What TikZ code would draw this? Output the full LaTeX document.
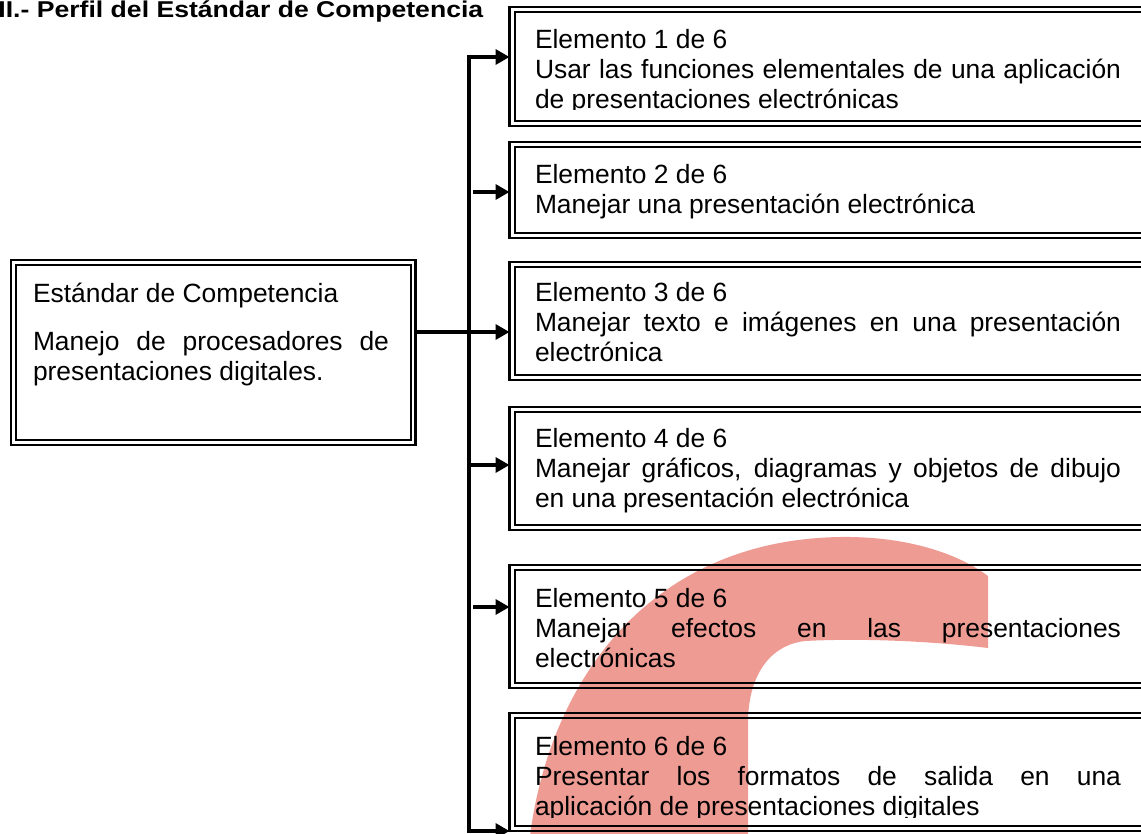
\documentclass[tikz,border=0pt]{standalone}
\usepackage{graphicx}
\usepackage{fontspec}
\setmainfont{Liberation Sans}
\usetikzlibrary{arrows.meta}
\definecolor{wmark}{RGB}{238,155,148}
\tikzset{
  boxo/.style={draw, rectangle, line width=2.5pt, inner sep=0pt, outer sep=0pt, anchor=north west},
  boxi/.style={draw, line width=2pt},
  eltext/.style={anchor=base west, inner sep=0pt, outer sep=0pt, font=\fontsize{26.4}{30}\selectfont},
  conn/.style={line width=3.3pt, line join=miter},
  >={Triangle[length=14pt,width=15pt]}
}
\begin{document}
\begin{tikzpicture}[x=1pt,y=-1pt]
\useasboundingbox (0,0) rectangle (1141,833);
\clip (0,0) rectangle (1141,833);
% watermark
\fill[wmark] (530,836) .. controls (550,680) and (650,540) .. (840,537)
  .. controls (910,536) and (960,555) .. (988,576) -- (988,648)
  .. controls (930,641) and (860,638) .. (805,641)
  .. controls (770,645) and (749,675) .. (748,720) -- (748,836) -- cycle;
% title
\node[anchor=base west, inner sep=0pt, font=\fontsize{26.6}{30}\selectfont\bfseries] (title) at (-1.8,17.3) {\scalebox{1}[0.86]{II.- Perfil del Estándar de Competencia}};
% main box
\node[boxo, minimum width=404.5pt, minimum height=185pt] (main) at (11,260) {};
\draw[boxi] ([shift={(5,5)}]main.north west) rectangle ([shift={(-5,-5)}]main.south east);
\node[eltext] (mt1) at (33,302) {Estándar de Competencia};
\node[eltext] (mt2) at (33,350) {\parbox[t]{356pt}{Manejo de procesadores de\linebreak presentaciones digitales.}};
% element boxes
\node[boxo, minimum width=650pt, minimum height=119pt] (b1) at (509.5,7) {};
\node[boxo, minimum width=650pt, minimum height=96pt] (b2) at (509.5,142) {};
\node[boxo, minimum width=650pt, minimum height=118pt] (b3) at (509.5,262) {};
\node[boxo, minimum width=650pt, minimum height=123pt] (b4) at (509.5,407) {};
\node[boxo, minimum width=650pt, minimum height=123pt] (b5) at (509.5,565) {};
\node[boxo, minimum width=650pt, minimum height=118pt] (b6) at (509.5,713) {};
\foreach \b in {b1,b2,b3,b4,b5,b6}{
  \draw[boxi] ([shift={(5,5)}]\b.north west) rectangle ([shift={(-5,-5)}]\b.south east);
}
% texts
\begin{scope}
\clip (500,0) rectangle (1141,109.5);
\node[eltext] (t1) at (535,48) {\parbox[t]{586pt}{Elemento 1 de 6\\Usar las funciones elementales de una aplicación\linebreak de presentaciones electrónicas}};
\end{scope}
\node[eltext] (t2) at (535,183) {\parbox[t]{586pt}{Elemento 2 de 6\\Manejar una presentación electrónica}};
\node[eltext] (t3) at (535,301) {\parbox[t]{586pt}{Elemento 3 de 6\\Manejar texto e imágenes en una presentación\linebreak electrónica}};
\node[eltext] (t4) at (535,447) {\parbox[t]{586pt}{Elemento 4 de 6\\Manejar gráficos, diagramas y objetos de dibujo\linebreak en una presentación electrónica}};
\node[eltext] (t5) at (535,607) {\parbox[t]{586pt}{Elemento 5 de 6\\Manejar efectos en las presentaciones\linebreak electrónicas}};
\begin{scope}
\clip (500,700) rectangle (1141,817.5);
\node[eltext] (t6) at (535,755) {\parbox[t]{586pt}{Elemento 6 de 6\\Presentar los formatos de salida en una\linebreak aplicación de presentaciones digitales}};
\end{scope}
% connectors
\coordinate (top) at (469,57);
\coordinate (bot) at (469,831);
\coordinate (y2) at (473,192);
\coordinate (y3) at (0,332);
\coordinate (y4) at (469,465);
\coordinate (y5) at (473,607);
\draw[conn,<->] (top -| b1.west) -- (top) -- (bot) -- (bot -| b6.west);
\draw[conn,->] (y2) -- (y2 -| b2.west);
\draw[conn,->] (main.east |- y3) -- (y3 -| b3.west);
\draw[conn,->] (y4) -- (y4 -| b4.west);
\draw[conn,->] (y5) -- (y5 -| b5.west);
\end{tikzpicture}
\end{document}
